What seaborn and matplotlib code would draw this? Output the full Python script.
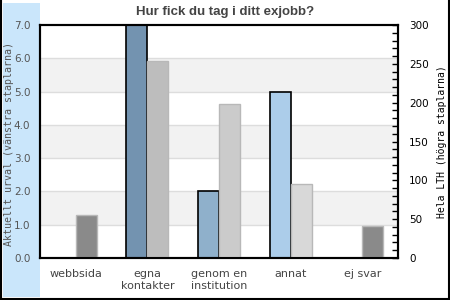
import matplotlib
matplotlib.use("Agg")
import matplotlib.pyplot as plt
import seaborn as sns
import pandas as pd
from matplotlib.patches import Rectangle
from matplotlib.lines import Line2D
from matplotlib.ticker import MultipleLocator, FormatStrFormatter

categories = ["webbsida", "egna\nkontakter", "genom en\ninstitution", "annat", "ej svar"]
urval = [0, 7, 2, 5, 0]          # left axis (Aktuellt urval)
lth = [55, 254, 198, 95, 41]      # right axis (Hela LTH)
left_colors = ["#7393b0", "#7393b0", "#8fb0cb", "#accdea", "#accdea"]
right_colors = ["#8a8a8a", "#bdbdbd", "#cbcbcb", "#d8d8d8", "#8a8a8a"]
title = "Hur fick du tag i ditt exjobb?"
left_label = "Aktuellt urval (vänstra staplarna)"
right_label = "Hela LTH (högra staplarna)"

sns.set_style("white")
plt.rcParams["font.family"] = ["DejaVu Sans"]

fig = plt.figure(figsize=(4.5, 3.0), dpi=100)
fig.patch.set_facecolor("white")

# light blue strip on the left
fig.patches.append(Rectangle((3 / 450, 3 / 300), 37 / 450, 294 / 300,
                             transform=fig.transFigure, facecolor="#cae6fb",
                             edgecolor="none", zorder=-5))
# figure border
for xs, ys in [([0.002, 0.002], [0, 1]), ([0.998, 0.998], [0, 1]), ([0, 1], [0.004, 0.004])]:
    fig.lines.append(Line2D(xs, ys, transform=fig.transFigure, color="black", lw=1.5, zorder=-4))

ax = fig.add_axes([40 / 450, 1 - 258 / 300, 358 / 450, 233 / 300])
ax.set_facecolor("white")

df_l = pd.DataFrame({"cat": categories, "val": urval, "serie": "urval"})
df_r = pd.DataFrame({"cat": categories, "val": lth, "serie": "lth"})
hue_order = ["urval", "lth"]

sns.barplot(data=df_l, x="cat", y="val", hue="serie", hue_order=hue_order,
            order=categories, width=0.586, dodge=True, ax=ax, legend=False,
            edgecolor="black", linewidth=1.2, saturation=1, zorder=2)
left_bars = list(ax.patches)
for p, c in zip(left_bars, left_colors):
    p.set_facecolor(c)
    if p.get_height() == 0:
        p.set_visible(False)

# bands & grid
for lo in [1, 3, 5]:
    ax.axhspan(lo, lo + 1, color="#f2f2f2", zorder=0, lw=0)
for g in range(1, 7):
    ax.axhline(g, color="#dddddd", lw=1, zorder=0.5)

ax2 = ax.twinx()
sns.barplot(data=df_r, x="cat", y="val", hue="serie", hue_order=hue_order,
            order=categories, width=0.586, dodge=True, ax=ax2, legend=False,
            edgecolor="#b8b8b8", linewidth=1.0, saturation=1, zorder=2)
for p, c in zip(list(ax2.patches), right_colors):
    p.set_facecolor(c)

ax.set_xlim(-0.5, 4.5)
ax.set_ylim(0, 7)
ax2.set_ylim(0, 300)

ax.yaxis.set_major_locator(MultipleLocator(1))
ax.yaxis.set_major_formatter(FormatStrFormatter("%.1f"))
ax.tick_params(axis="y", length=0, pad=7, labelsize=7.5, labelcolor="#555555")
ax.tick_params(axis="x", length=0, pad=8, labelsize=8, labelcolor="#444444")
ax.set_xlabel("")
ax.set_ylabel(left_label, family="DejaVu Sans Mono", fontsize=7.2, color="#555555")
ax.yaxis.set_label_coords(-0.072, 0.49)

ax2.yaxis.set_major_locator(MultipleLocator(50))
ax2.yaxis.set_minor_locator(MultipleLocator(10))
ax2.tick_params(axis="y", which="both", direction="in", length=4, width=1,
                color="black", labelsize=7.5, labelcolor="black", pad=8)
ax2.set_ylabel(right_label, family="DejaVu Sans Mono", fontsize=7, color="black", labelpad=6)
ax2.set_xlabel("")

for a in (ax, ax2):
    for s in a.spines.values():
        s.set_visible(True)
        s.set_color("black")
        s.set_linewidth(1.5)
ax2.patch.set_visible(False)

fig.text(0.5, 1 - 12 / 300, title, ha="center", va="center", fontsize=9.5,
         fontweight="bold", color="#444444", family="Liberation Sans")

fig.savefig("out.png", dpi=100)
